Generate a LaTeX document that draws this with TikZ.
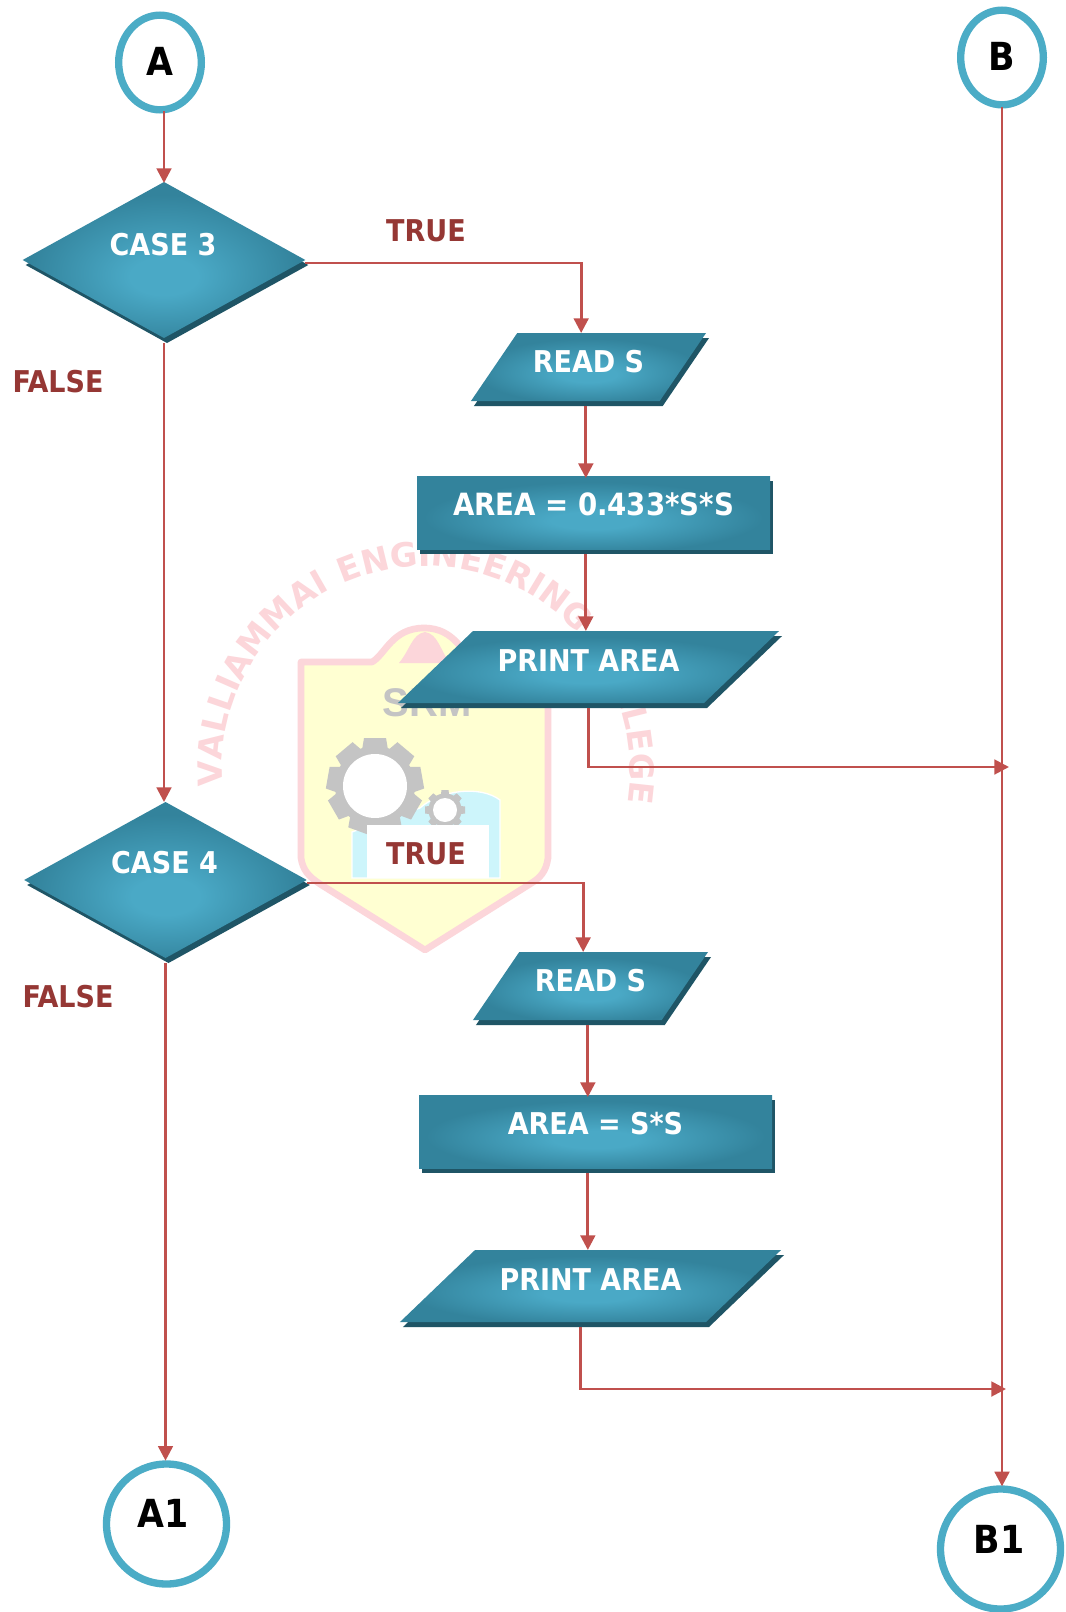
\documentclass[tikz,border=0pt]{standalone}
\usepackage{fontspec}
\usetikzlibrary{shapes.geometric,arrows.meta,shadows,decorations.text,calc}
\newfontfamily\labf{DejaVu Sans Condensed Bold}
\newfontfamily\wmf{Liberation Sans Bold}
\newfontfamily\wmarc[LetterSpace=7.4]{DejaVu Sans Bold}
\newdimen\pxu \pxu=0.75pt
\newcommand{\tx}[3]{\raisebox{#2\pxu}[.5pt][.5pt]{\makebox[1pt][c]{\hspace*{#1\pxu}\hspace*{#1\pxu}#3}}}
\definecolor{tealL}{HTML}{4AA9C6}
\definecolor{tealD}{HTML}{33839C}
\definecolor{tealS}{HTML}{1F5566}
\definecolor{ringc}{HTML}{4BACC6}
\definecolor{linec}{HTML}{C0504D}
\definecolor{labc}{HTML}{953734}
\definecolor{wmpink}{HTML}{FCD6DA}
\definecolor{wmyel}{HTML}{FFFFD2}
\definecolor{wmgray}{HTML}{C4C4C4}
\definecolor{wmblue}{HTML}{CDF5FB}
\pgfdeclareradialshading{tealrad}{\pgfpoint{0bp}{-6bp}}{color(0bp)=(tealL); color(6bp)=(tealL); color(24bp)=(tealD); color(50bp)=(tealD)}
\pgfdeclarelayer{wm}
\pgfsetlayers{wm,main}
\tikzset{
  x=0.75pt,y=-0.75pt,
  boxbase/.style={shading=tealrad,inner sep=0pt,outer sep=0pt,text=white,
    font=\labf\fontsize{22.5pt}{24pt}\selectfont,
    general shadow={shadow xshift=2.25pt,shadow yshift=-3.75pt,fill=tealS}},
  decision/.style={boxbase,diamond,minimum width=212pt,minimum height=117pt},
  readbox/.style={boxbase,trapezium,trapezium stretches=true,trapezium left angle=72,trapezium right angle=108,minimum width=176.25pt,minimum height=51pt},
  printbox/.style={boxbase,trapezium,trapezium stretches=true,trapezium left angle=72,trapezium right angle=108,minimum width=285.75pt,minimum height=54pt},
  procbox/.style={boxbase,rectangle,minimum width=264.75pt,minimum height=55pt},
  smallring/.style={ellipse,draw=ringc,fill=white,line width=5.5pt,inner sep=0pt,outer sep=0pt,minimum width=62pt,minimum height=71pt,font=\labf\fontsize{29pt}{30pt}\selectfont},
  bigring/.style={ellipse,draw=ringc,fill=white,line width=5.5pt,inner sep=0pt,outer sep=0pt,minimum width=90pt,minimum height=90pt,font=\labf\fontsize{29pt}{30pt}\selectfont},
  lab/.style={text=labc,font=\labf\fontsize{22.5pt}{24pt}\selectfont,inner sep=0pt},
  conn/.style={draw=linec,line width=2.1pt,-{Triangle[length=11pt,width=11pt]}},
  plainconn/.style={draw=linec,line width=2.1pt}
}
\begin{document}
\begin{tikzpicture}
\useasboundingbox (0,0) rectangle (1066,1612);
% watermark
\begin{pgfonlayer}{wm}
\fill[white] (0,0) rectangle (1066,1612);
\path[postaction={decorate},decoration={text along path,
  text={|\wmarc\fontsize{25pt}{25pt}\selectfont\color{wmpink}|VALLIAMMAI ENGINEERING COLLEGE}}]
  (222.6,786) arc[start angle=184.5,end angle=-30,radius=153pt];
\draw[draw=wmpink,fill=wmyel,line width=5pt,line join=round]
  (301,662) -- (372,662) .. controls (385,655) and (392,628) .. (424,628)
  .. controls (456,628) and (462,655) .. (476,662) -- (548,662) -- (548,858)
  .. controls (546,872) and (540,878) .. (530,884) -- (425,950) -- (320,884)
  .. controls (308,876) and (303,870) .. (301,858) -- cycle;
\fill[wmpink] (399,663) .. controls (410,650) and (412,634) .. (425,632)
  .. controls (438,634) and (440,650) .. (450,663) -- cycle;
\node[text=wmgray,font=\wmf\fontsize{30pt}{30pt}\selectfont,inner sep=0pt] (srm) at (427,703) {SRM};
\fill[wmblue,draw=white,line width=1pt] (352,832) -- (352,878) -- (500,878) -- (500,800)
  .. controls (480,785) and (440,790) .. (420,808) -- cycle;
\foreach \a in {0,40,...,320}{
  \fill[wmgray,shift={(375,786)},rotate=\a] (-11,-48) -- (11,-48) -- (14,-30) -- (-14,-30) -- cycle;}
\fill[wmgray] (375,786) circle[radius=30pt];
\fill[white] (375,786) circle[radius=24pt];
\foreach \a in {0,45,...,315}{
  \fill[wmgray,shift={(445,810)},rotate=\a] (-3.5,-20) -- (3.5,-20) -- (4.5,-12) -- (-4.5,-12) -- cycle;}
\fill[wmgray] (445,810) circle[radius=12.5pt];
\fill[white] (445,810) circle[radius=9pt];
\end{pgfonlayer}
% nodes
\node[smallring] (a) at (160,62.5) {\tx{0}{-13.5}{A}};
\node[smallring] (b) at (1002,57.5) {\tx{0}{-13}{B}};
\node[bigring] (a1) at (166.5,1524) {\tx{-3}{-3}{A1}};
\node[bigring] (b1) at (1000.5,1549) {\tx{-1.5}{-4}{B1}};
\node[decision] (c3) at (164,260) {\tx{-1}{5}{CASE 3}};
\node[decision] (c4) at (165.5,880) {\tx{-1}{7}{CASE 4}};
\node[readbox] (r1) at (588.5,367) {\tx{0}{-5}{READ S}};
\node[procbox,font=\labf\fontsize{23pt}{24pt}\selectfont] (e1) at (593.5,512.75) {\tx{0}{-3}{AREA = 0.433*S*S}};
\node[printbox] (p1) at (588.5,667) {\tx{0}{-4}{PRINT AREA}};
\node[readbox] (r2) at (590.5,986) {\tx{0}{-5}{READ S}};
\node[procbox] (e2) at (595.5,1131.75) {\tx{0}{-3}{AREA = S*S}};
\node[printbox] (p2) at (590.5,1286) {\tx{0}{-4}{PRINT AREA}};
\node[lab] (t1) at (426,231) {TRUE};
\node[lab] (f1) at (58,382) {FALSE};
\node[lab,fill=white,minimum width=92pt,minimum height=40pt] (t2) at (428,851.5) {\tx{-2}{-13}{TRUE}};
\node[lab] (f2) at (68,997) {FALSE};
\coordinate (j1) at (1009,767);
\coordinate (j2) at (1006,1389);
% connectors
\draw[conn,shorten >=-0.75pt] ([yshift=-1pt]c3.north |- a.south) -- (c3.north);
\draw[conn] ([yshift=-2.25pt]c3.east) -| ([xshift=-5.5pt]r1.north);
\draw[conn] ([yshift=-3.75pt]c3.south) -- (c3.south |- c4.north);
\draw[conn,shorten >=-1.5pt] ([shift={(-2pt,-3.75pt)}]r1.south) -- ([xshift=-2pt]r1.south |- e1.north);
\draw[conn] ([xshift=-2pt,yshift=-3.75pt]r1.south |- e1.south) -- ([xshift=-2pt]r1.south |- p1.north);
\draw[conn] ([yshift=-3.75pt]p1.south) |- (j1);
\draw[plainconn] ([yshift=-1.5pt]b.south) -- (b.south |- j1);
\draw[conn,shorten >=2pt] (b.south |- j1) -- (b.south |- b1.north);
\draw[conn] ([yshift=-2.25pt]c4.east) -| ([xshift=-5.5pt]r2.north);
\draw[conn,shorten >=2.5pt] ([yshift=-3.75pt]c4.south) -- (c4.south |- a1.north);
\draw[conn,shorten >=-1.5pt] ([shift={(-2pt,-3.75pt)}]r2.south) -- ([xshift=-2pt]r2.south |- e2.north);
\draw[conn] ([xshift=-2pt,yshift=-3.75pt]r2.south |- e2.south) -- ([xshift=-2pt]r2.south |- p2.north);
\draw[conn] ([shift={(-7.25pt,-3.75pt)}]p2.south) |- (j2);
\end{tikzpicture}
\end{document}
